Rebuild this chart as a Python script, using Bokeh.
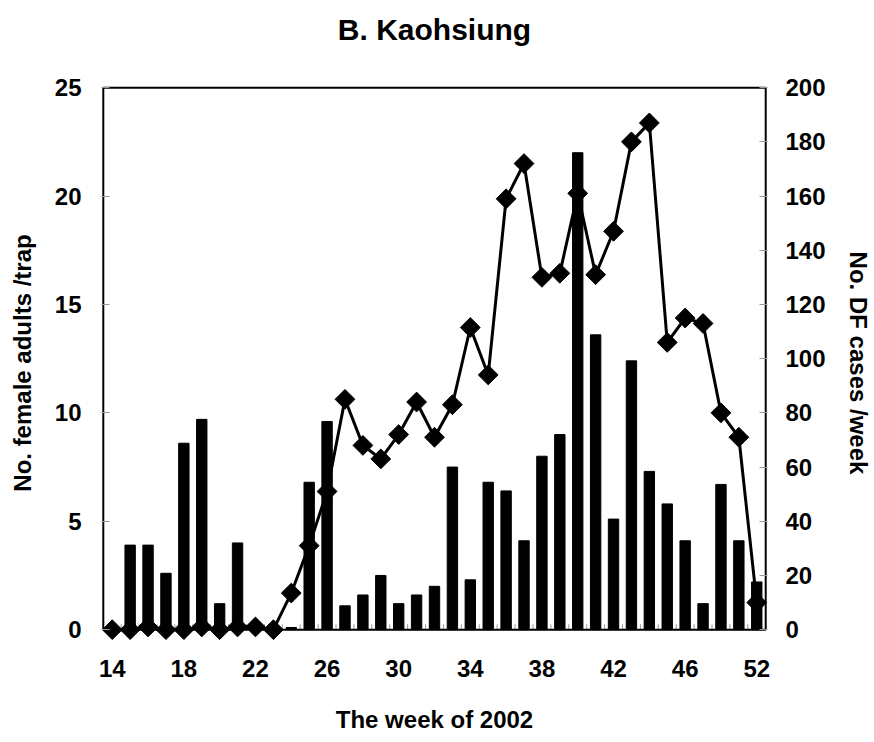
import math
from bokeh.plotting import figure
from bokeh.models import Range1d, LinearAxis, FixedTicker
from bokeh.embed import file_html
from bokeh.resources import INLINE

# ---- data ----
weeks = [14, 15, 16, 17, 18, 19, 20, 21, 22, 23, 24, 25, 26, 27, 28, 29, 30, 31, 32,
         33, 34, 35, 36, 37, 38, 39, 40, 41, 42, 43, 44, 45, 46, 47, 48, 49, 50]
tick_weeks = [14, 18, 22, 26, 30, 34, 38, 42, 46, 50]
tick_labels = ["14", "18", "22", "26", "30", "34", "38", "42", "46", "52"]

female_adults = [0, 3.9, 3.9, 2.6, 8.6, 9.7, 1.2, 4.0, 0, 0, 0.1, 6.8, 9.6, 1.1, 1.6, 2.5,
                 1.2, 1.6, 2.0, 7.5, 2.3, 6.8, 6.4, 4.1, 8.0, 9.0, 22.0, 13.6, 5.1, 12.4,
                 7.3, 5.8, 4.1, 1.2, 6.7, 4.1, 2.2]
df_cases = [0, 0, 1, 0, 0, 1, 0, 1, 1, 0, 13.5, 31, 51, 85, 68, 63, 72, 84, 71, 83,
            111.5, 94, 159, 172, 130, 131.5, 161, 131, 147, 180, 187, 106, 115, 113,
            80, 71, 10]

left_ticks = [0, 5, 10, 15, 20, 25]
right_ticks = [0, 20, 40, 60, 80, 100, 120, 140, 160, 180, 200]

title_text = "B. Kaohsiung"

FONT = "Liberation Sans"
TXT = "black"

p = figure(width=874, height=742,
           x_range=Range1d(13.4, 50.6), y_range=Range1d(-0.5, 25.1),
           output_backend="svg", toolbar_location=None,
           min_border_left=101, min_border_right=106,
           min_border_top=85, min_border_bottom=102)
p.extra_y_ranges = {"right": Range1d(-4, 200.8)}
p.outline_line_color = None
p.grid.visible = False
p.background_fill_color = "white"
p.border_fill_color = "white"
p.title.visible = False

xa = p.below[0]
ya = p.left[0]


def style_axis(ax):
    ax.major_label_text_font = FONT
    ax.major_label_text_font_style = "bold"
    ax.major_label_text_font_size = "24px"
    ax.major_label_text_color = TXT
    ax.axis_label_text_font = FONT
    ax.axis_label_text_font_style = "bold"
    ax.axis_label_text_font_size = "24px"
    ax.axis_label_text_color = TXT
    ax.axis_line_color = None
    ax.minor_tick_line_color = None


# bottom axis
style_axis(xa)
xa.ticker = FixedTicker(ticks=tick_weeks)
xa.major_label_overrides = {w: l for w, l in zip(tick_weeks, tick_labels)}
xa.major_tick_line_color = None
xa.major_label_standoff = 13
xa.axis_label = "The week of 2002"
xa.axis_label_standoff = 26

# left axis
style_axis(ya)
ya.ticker = FixedTicker(ticks=left_ticks)
ya.major_tick_in = 8
ya.major_tick_out = 0
ya.major_tick_line_color = "#999999"
ya.major_label_standoff = 20
ya.axis_label = "No. female adults /trap"
ya.axis_label_standoff = 16

# right axis
ra = LinearAxis(y_range_name="right", ticker=FixedTicker(ticks=right_ticks))
style_axis(ra)
ra.major_tick_in = 8
ra.major_tick_out = 0
ra.major_tick_line_color = "#999999"
ra.major_label_standoff = 18
ra.axis_label = "No. DF cases /week"
ra.axis_label_standoff = 16
p.add_layout(ra, "right")

# title: carried by a tick-less axis above the plot box
ta = LinearAxis(ticker=FixedTicker(ticks=[]))
style_axis(ta)
ta.major_tick_line_color = None
ta.major_tick_in = 0
ta.major_tick_out = 0
ta.major_label_standoff = 0
ta.axis_label = title_text
ta.axis_label_text_font_size = "30px"
ta.axis_label_standoff = 40
p.add_layout(ta, "above")

# category boundary tick marks along the bottom
bounds = [w + 0.5 for w in weeks[:-1]]
p.segment(x0=bounds, y0=[0] * len(bounds), x1=bounds, y1=[0.25] * len(bounds),
          line_color="#999999", line_width=1)

# bars
p.vbar(x=weeks, top=female_adults, bottom=0, width=0.58,
       fill_color="black", line_color="black")

# plot box
x_lo, x_hi = weeks[0] - 0.5, weeks[-1] + 0.5
p.quad(left=[x_lo], right=[x_hi], bottom=[0], top=[left_ticks[-1]],
       fill_color=None, line_color="black", line_width=2)

# line with diamonds
p.line(weeks, df_cases, y_range_name="right", line_color="black", line_width=3)
p.scatter(weeks, df_cases, y_range_name="right", marker="square", angle=math.pi / 4,
          size=14, fill_color="black", line_color="black")

open("out.html", "w").write(file_html(p, INLINE))
